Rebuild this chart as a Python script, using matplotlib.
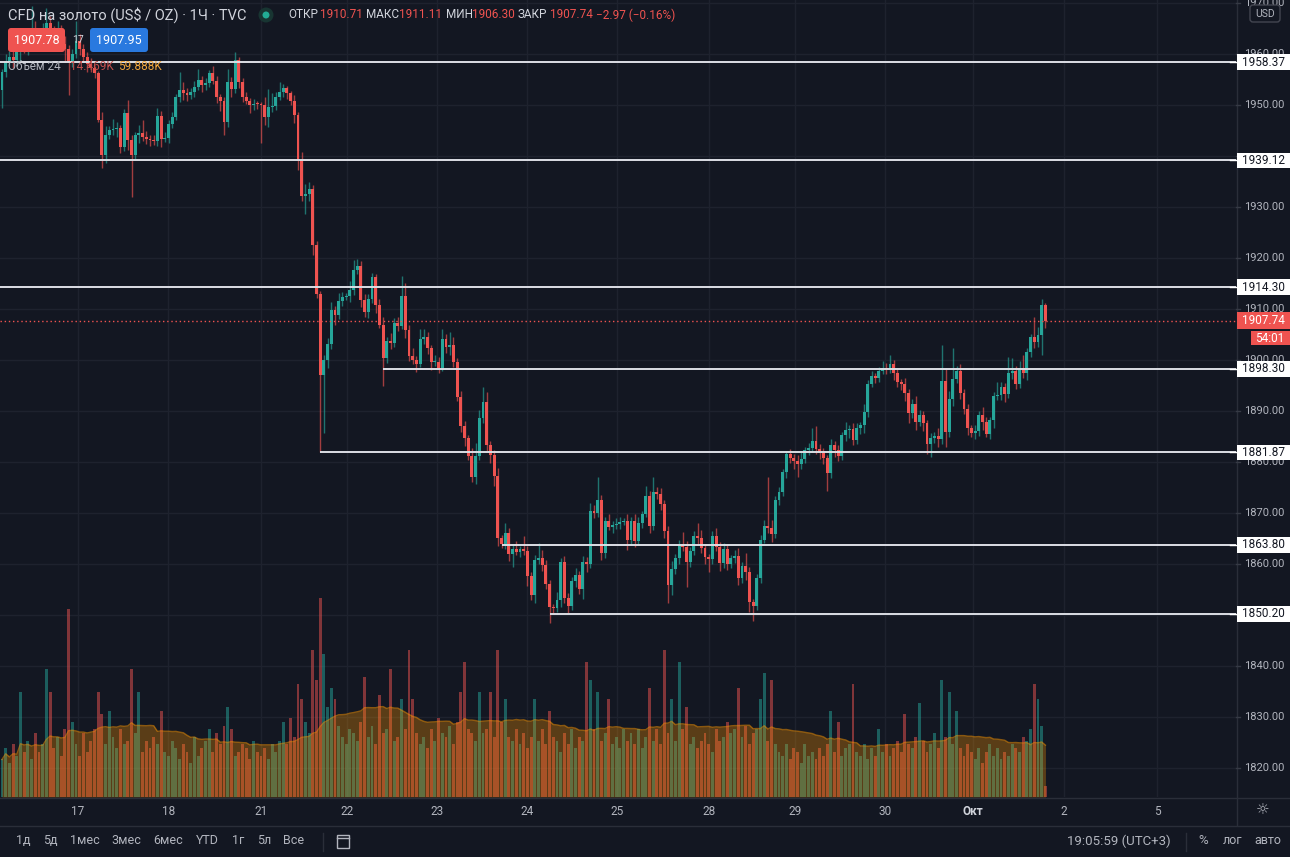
import numpy as np
import pandas as pd
import matplotlib
matplotlib.use("Agg")
import matplotlib.pyplot as plt
from matplotlib.patches import Rectangle, FancyBboxPatch, Circle
from matplotlib.lines import Line2D
from matplotlib.transforms import blended_transform_factory

plt.rcParams['font.family'] = ['Roboto', 'DejaVu Sans']

# --- данные: часовые свечи CFD на золото (закрытия, тени, объём в тыс.) ---
first_open = 1953.0
last_open = 1910.71

closes = [
    1956.5, 1958.5, 1959.5, 1958.8, 1960.5, 1962.0, 1961.0, 1963.0, 1965.0, 1963.5,
    1962.5, 1964.0, 1966.0, 1964.5, 1963.0, 1964.5, 1962.0, 1961.0, 1958.5, 1960.0,
    1962.5, 1961.0, 1959.5, 1958.0, 1957.2, 1956.3, 1947.1, 1940.2, 1944.1, 1945.1,
    1945.3, 1945.5, 1941.8, 1948.4, 1943.1, 1940.2, 1944.1, 1944.5, 1943.7, 1943.3,
    1943.2, 1943.0, 1947.9, 1943.3, 1943.5, 1946.3, 1947.6, 1951.6, 1953.0, 1952.4,
    1952.0, 1952.5, 1953.5, 1954.9, 1954.0, 1954.3, 1956.3, 1954.7, 1951.6, 1950.8,
    1946.7, 1954.5, 1953.1, 1958.8, 1954.5, 1951.6, 1950.8, 1950.0, 1950.2, 1950.1,
    1950.0, 1947.6, 1949.6, 1949.8, 1951.6, 1952.5, 1953.3, 1952.4, 1950.8, 1948.0,
    1939.2, 1932.2, 1932.6, 1933.5, 1922.5, 1912.9, 1897.1, 1900.0, 1903.1, 1909.8,
    1908.8, 1911.6, 1912.4, 1912.5, 1913.7, 1917.6, 1918.4, 1911.8, 1909.4, 1912.0,
    1916.3, 1910.8, 1906.9, 1900.4, 1903.7, 1903.3, 1907.2, 1906.7, 1912.5, 1905.9,
    1900.8, 1900.0, 1899.2, 1904.1, 1904.5, 1902.4, 1899.6, 1899.7, 1898.4, 1904.1,
    1902.5, 1903.0, 1899.6, 1892.7, 1887.0, 1884.7, 1881.2, 1877.1, 1881.2, 1888.6,
    1891.8, 1883.3, 1881.4, 1877.3, 1865.1, 1863.9, 1866.1, 1862.0, 1863.0, 1862.4,
    1863.0, 1862.6, 1857.6, 1853.9, 1860.8, 1861.2, 1859.8, 1856.1, 1851.6, 1851.4,
    1853.0, 1860.4, 1853.3, 1851.8, 1856.7, 1857.8, 1855.1, 1860.4, 1860.0, 1870.4,
    1870.0, 1872.5, 1862.2, 1868.4, 1867.3, 1867.6, 1867.8, 1868.2, 1868.4, 1864.7,
    1868.4, 1864.5, 1868.0, 1869.8, 1873.3, 1867.5, 1874.1, 1873.7, 1871.8, 1866.5,
    1855.9, 1859.0, 1861.2, 1863.7, 1863.3, 1860.4, 1862.5, 1865.5, 1865.1, 1863.1,
    1861.4, 1861.0, 1865.5, 1863.3, 1860.2, 1863.0, 1860.0, 1861.2, 1861.6, 1857.3,
    1859.6, 1858.4, 1852.5, 1851.8, 1857.3, 1864.7, 1867.5, 1867.1, 1865.9, 1872.5,
    1874.1, 1878.0, 1881.6, 1880.8, 1880.2, 1879.6, 1880.6, 1882.4, 1882.7, 1884.1,
    1882.5, 1882.0, 1880.8, 1877.8, 1883.3, 1882.4, 1881.2, 1885.3, 1886.3, 1886.5,
    1884.3, 1886.7, 1887.2, 1889.8, 1895.3, 1896.9, 1896.5, 1897.8, 1898.4, 1898.3,
    1899.2, 1897.5, 1895.7, 1895.3, 1893.5, 1889.6, 1891.4, 1887.8, 1889.2, 1887.6,
    1883.5, 1884.7, 1885.1, 1884.5, 1895.9, 1885.9, 1892.4, 1896.3, 1897.8, 1893.5,
    1890.4, 1886.7, 1885.7, 1886.0, 1889.2, 1887.8, 1885.5, 1888.2, 1892.9, 1893.1,
    1894.7, 1893.3, 1897.5, 1897.8, 1895.3, 1898.4, 1897.5, 1901.6, 1904.5, 1903.5,
    1904.9, 1910.7, 1907.74,
]

up_wick = [
    0.5, 1.5, 1.0, 2.0, 1.2, 0.8, 2.5, 1.0, 4.5, 1.5,
    1.0, 2.0, 3.0, 1.5, 1.0, 2.0, 1.2, 1.5, 0.8, 1.0,
    4.0, 1.5, 1.0, 0.8, 1.2, 0.5, 0.4, 1.5, 1.8, 0.8,
    2.0, 1.2, 0.5, 0.8, 2.5, 1.0, 0.6, 1.5, 2.5, 1.2,
    0.8, 1.0, 1.5, 0.9, 1.2, 0.8, 1.0, 0.6, 3.5, 1.5,
    1.0, 0.8, 1.2, 2.2, 0.8, 1.0, 0.6, 1.4, 1.0, 0.5,
    0.8, 2.5, 1.0, 1.5, 0.6, 0.8, 1.0, 0.5, 1.0, 0.6,
    0.5, 1.5, 3.5, 2.5, 1.0, 2.0, 0.8, 0.5, 0.3, 1.2,
    0.6, 1.5, 2.0, 1.5, 0.8, 0.9, 0.6, 1.0, 1.2, 1.5,
    0.8, 1.5, 1.0, 0.6, 1.8, 2.0, 1.5, 1.0, 1.2, 1.0,
    0.8, 0.6, 1.2, 1.5, 0.8, 1.5, 1.0, 1.2, 4.0, 2.5,
    1.0, 1.5, 0.8, 2.0, 1.5, 1.0, 0.6, 1.2, 0.8, 2.0,
    1.0, 2.5, 1.5, 0.8, 1.2, 1.0, 0.6, 1.5, 2.5, 1.5,
    3.0, 2.0, 0.8, 1.0, 1.5, 0.6, 2.0, 1.0, 0.8, 1.5,
    0.6, 2.5, 1.0, 0.8, 1.0, 3.0, 1.5, 1.0, 0.8, 0.6,
    1.5, 0.8, 1.2, 1.0, 0.8, 1.5, 0.8, 1.2, 1.0, 1.5,
    1.2, 4.5, 1.0, 0.8, 1.5, 0.8, 1.2, 1.0, 0.6, 1.5,
    0.8, 1.5, 1.2, 0.6, 2.0, 1.0, 3.0, 1.0, 1.2, 0.8,
    1.0, 1.5, 0.8, 1.0, 2.5, 1.2, 0.8, 1.0, 2.5, 1.5,
    0.8, 0.6, 1.0, 1.5, 1.0, 1.2, 0.8, 0.6, 1.2, 1.5,
    0.8, 2.5, 1.0, 0.6, 0.8, 1.0, 1.2, 9.5, 1.5, 0.8,
    1.0, 0.6, 0.5, 1.0, 0.8, 1.2, 1.5, 0.6, 1.0, 2.5,
    3.0, 1.0, 0.8, 0.6, 1.2, 0.8, 1.0, 0.6, 1.5, 0.8,
    1.2, 1.0, 0.6, 1.5, 0.8, 1.0, 0.6, 0.8, 1.5, 1.0,
    1.8, 0.8, 1.0, 0.6, 1.2, 0.8, 1.0, 1.5, 1.0, 0.8,
    0.6, 1.0, 0.8, 1.5, 7.0, 2.5, 1.5, 6.0, 1.0, 1.5,
    0.8, 1.0, 0.6, 1.2, 0.8, 1.5, 1.0, 0.6, 0.8, 2.5,
    1.0, 0.8, 3.0, 2.5, 1.0, 1.5, 2.5, 0.8, 0.6, 4.0,
    1.5, 1.2, 0.4,
]

down_wick = [
    3.5, 1.0, 0.8, 1.5, 1.0, 2.0, 0.8, 1.2, 1.0, 1.5,
    0.8, 1.2, 1.0, 2.0, 0.6, 1.0, 1.5, 2.5, 6.5, 1.0,
    0.8, 1.2, 1.0, 1.5, 0.8, 1.0, 0.5, 2.5, 1.5, 0.8,
    1.0, 1.5, 1.2, 0.8, 2.0, 8.3, 1.0, 1.5, 0.8, 1.0,
    1.2, 0.8, 1.0, 1.5, 0.6, 1.0, 0.8, 0.6, 1.0, 1.5,
    1.2, 0.8, 1.0, 0.6, 1.5, 1.0, 0.8, 0.6, 1.2, 2.0,
    2.5, 1.0, 1.5, 0.8, 1.2, 1.0, 0.6, 1.5, 1.0, 0.8,
    7.5, 1.5, 2.0, 1.0, 0.8, 0.6, 1.0, 1.2, 0.8, 1.5,
    2.0, 1.0, 3.5, 1.5, 2.0, 0.8, 15.2, 11.4, 1.5, 1.0,
    2.0, 0.8, 1.0, 0.6, 1.2, 1.0, 0.8, 1.5, 1.0, 1.2,
    0.8, 1.5, 0.6, 5.5, 1.0, 1.2, 0.8, 1.0, 0.6, 1.5,
    1.0, 0.8, 1.5, 0.6, 1.0, 1.2, 1.5, 0.8, 1.0, 0.6,
    1.2, 1.5, 1.0, 0.8, 1.2, 1.5, 0.8, 1.0, 1.5, 0.8,
    1.0, 1.2, 1.5, 2.0, 1.5, 0.8, 1.0, 1.5, 2.5, 0.6,
    1.0, 0.8, 2.0, 1.0, 1.5, 0.8, 1.2, 1.0, 3.1, 1.0,
    0.8, 1.5, 1.0, 1.5, 0.8, 1.2, 1.0, 2.0, 1.5, 0.8,
    1.0, 0.8, 1.5, 1.0, 0.6, 1.2, 0.8, 1.0, 0.6, 2.0,
    1.0, 1.2, 0.8, 1.0, 0.6, 1.5, 0.8, 1.0, 1.2, 1.5,
    3.5, 2.0, 1.0, 1.2, 0.8, 5.0, 1.0, 0.8, 1.2, 1.0,
    1.5, 2.5, 1.0, 0.8, 1.5, 1.0, 1.2, 0.8, 1.0, 1.5,
    1.0, 1.5, 2.0, 3.0, 0.8, 1.0, 0.6, 1.0, 1.5, 0.8,
    1.0, 0.8, 1.2, 1.0, 1.5, 2.5, 1.0, 0.8, 1.0, 0.6,
    1.0, 1.5, 1.2, 3.5, 1.0, 1.5, 1.0, 0.8, 1.2, 1.5,
    1.0, 0.8, 1.2, 1.5, 1.0, 0.6, 1.0, 0.8, 0.6, 1.0,
    0.8, 1.5, 1.0, 1.2, 1.5, 2.0, 1.0, 1.5, 0.8, 1.5,
    2.0, 2.5, 1.0, 1.5, 1.0, 3.0, 1.0, 1.5, 0.8, 1.2,
    1.0, 1.5, 0.8, 1.2, 1.0, 1.5, 0.6, 1.0, 1.5, 0.8,
    1.0, 1.5, 0.8, 1.2, 1.0, 0.8, 1.0, 1.5, 1.0, 1.2,
    1.0, 4.0, 1.44,
]

volume_k = [
    50, 65, 45, 70, 55, 140, 60, 75, 50, 85,
    60, 70, 170, 140, 65, 80, 55, 90, 250, 100,
    70, 55, 85, 60, 75, 90, 140, 110, 70, 115,
    80, 65, 90, 70, 75, 170, 85, 140, 60, 75,
    65, 80, 70, 115, 60, 55, 75, 65, 50, 70,
    60, 45, 80, 55, 65, 75, 90, 60, 85, 70,
    95, 120, 90, 55, 60, 70, 65, 50, 75, 60,
    55, 65, 50, 70, 60, 75, 100, 70, 105, 80,
    150, 130, 100, 85, 195, 155, 265, 190, 120, 145,
    130, 95, 80, 70, 90, 85, 75, 100, 160, 80,
    95, 70, 135, 85, 90, 170, 75, 80, 130, 90,
    195, 130, 85, 70, 80, 65, 90, 75, 105, 85,
    80, 95, 70, 100, 140, 180, 90, 85, 75, 140,
    85, 90, 140, 80, 195, 100, 130, 80, 75, 90,
    70, 85, 65, 80, 130, 75, 90, 70, 115, 80,
    75, 60, 85, 70, 90, 65, 80, 75, 180, 155,
    90, 140, 75, 85, 130, 70, 80, 65, 90, 75,
    85, 70, 90, 65, 80, 145, 75, 90, 70, 195,
    85, 130, 75, 180, 90, 120, 70, 80, 65, 75,
    85, 70, 60, 90, 75, 80, 100, 85, 90, 145,
    80, 95, 70, 85, 90, 130, 165, 75, 155, 70,
    60, 55, 70, 50, 65, 60, 45, 70, 55, 60,
    50, 65, 55, 70, 115, 60, 100, 55, 65, 70,
    150, 60, 55, 70, 50, 65, 55, 90, 60, 70,
    55, 65, 75, 60, 110, 70, 65, 80, 125, 75,
    60, 70, 85, 65, 155, 80, 140, 70, 115, 65,
    55, 70, 60, 50, 65, 45, 60, 70, 55, 65,
    50, 60, 55, 70, 65, 60, 80, 75, 90, 150,
    130, 95, 14.469,
]

day_pos = [20.5, 44.9, 70.0, 93.2, 117.6, 141.9, 166.2, 191.1, 214.3, 238.6, 262.4, 287.0, 312.2]
day_labels = ['17', '18', '21', '22', '23', '24', '25', '28', '29', '30', 'Окт', '2', '5']

full_levels = [1958.37, 1939.12, 1914.30]
ray_levels = [1898.30, 1881.87, 1863.80, 1850.20]
ray_start = [103, 86, 135, 148]

price_ticks = list(range(1820, 1980, 10))
last_price = 1907.74

# --- подготовка OHLC ---
c = np.array(closes)
o = np.array([first_open] + closes[:-1])
o[-1] = last_open
hi = np.maximum(o, c) + np.array(up_wick)
lo = np.minimum(o, c) - np.array(down_wick)
idx = np.arange(len(c))
is_up = c >= o

BG = '#131722'
UP = '#26a69a'
DN = '#ef5350'
TXT = '#b2b5be'
LINE = '#2a2e39'
GRID = '#1e222e'
W, H = 1290, 857

fig = plt.figure(figsize=(W / 100, H / 100), dpi=100, facecolor=BG)
ax = fig.add_axes([0, 60 / H, 1236 / W, 797 / H])
axv = ax.twinx()
ax.set_zorder(axv.get_zorder() + 1)
ax.patch.set_visible(False)
axv.patch.set_visible(False)

# сетка рисуется на нижней оси, под объёмом
grid_tr = blended_transform_factory(axv.transAxes, ax.transData)
for p in price_ticks:
    axv.add_line(Line2D([0, 1], [p, p], transform=grid_tr, color=GRID, linewidth=1, zorder=0))
for d in day_pos:
    axv.axvline(d, color=GRID, linewidth=1, zorder=0)

# объём + скользящая 24
vcol = np.where(is_up, UP, DN)
axv.bar(idx, volume_k, width=0.78, color=vcol, alpha=0.5, linewidth=0, zorder=1)
ma = pd.Series(volume_k).rolling(24, min_periods=1).mean()
axv.fill_between(idx, 0, ma, color='#ff9800', alpha=0.3, linewidth=0, zorder=2)
axv.plot(idx, ma, color='#ff9800', alpha=0.5, linewidth=1, zorder=2)
axv.set_ylim(0, 1060)
axv.set_yticks([])
for s in axv.spines.values():
    s.set_visible(False)

# свечи
ccol = np.where(is_up, UP, DN)
ax.vlines(idx, lo, hi, colors=ccol, linewidth=1, alpha=0.65, zorder=3)
body = np.maximum(np.abs(c - o), 0.2)
ax.bar(idx, body, bottom=np.minimum(o, c), width=0.78, color=ccol, linewidth=0, zorder=4)

# уровни
for lvl in full_levels:
    ax.axhline(lvl, color='#dcdee5', linewidth=1.4, zorder=5)
xmax = 333.5
for lvl, st in zip(ray_levels, ray_start):
    ax.hlines(lvl, st, xmax, color='#dcdee5', linewidth=1.4, zorder=5)
ax.axhline(last_price, color=DN, linewidth=1, linestyle=(0, (1, 2)), zorder=5)

ax.set_xlim(-0.54, xmax)
ax.set_ylim(1814.31, 1970.59)
ax.set_yticks(price_ticks)
ax.set_xticks(day_pos)
ax.set_xticklabels(day_labels)
ax.grid(False)
ax.tick_params(axis='y', length=0, labelleft=False, labelright=False)
ax.tick_params(axis='x', length=0, colors=TXT, labelsize=8.5, pad=6)
for lab in ax.get_xticklabels():
    if lab.get_text() == 'Окт':
        lab.set_fontweight('bold')
        lab.set_color('#d1d4dc')
for s in ax.spines.values():
    s.set_visible(False)

inch = fig.dpi_scale_trans
bt = blended_transform_factory(inch, ax.transData)


def T(x, y, s, **kw):
    fig.text(x / 100, (H - y) / 100, s, transform=inch, **kw)


def box(x0, y0, x1, y1, fc, ec='none', r=0.03):
    p = FancyBboxPatch((x0 / 100, (H - y1) / 100), (x1 - x0) / 100, (y1 - y0) / 100,
                       boxstyle=f'round,pad=0,rounding_size={r}', transform=inch,
                       fc=fc, ec=ec, lw=1, zorder=5)
    fig.add_artist(p)


def hline_px(x0, x1, y, color=LINE):
    fig.add_artist(Line2D([x0 / 100, x1 / 100], [(H - y) / 100] * 2, transform=inch,
                          color=color, linewidth=1, zorder=4))


def vline_px(x, y0, y1, color=LINE):
    fig.add_artist(Line2D([x / 100] * 2, [(H - y0) / 100, (H - y1) / 100], transform=inch,
                          color=color, linewidth=1, zorder=4))


# шкала цен справа
vline_px(1236.5, 0, 825)
hline_px(0, W, 797.5)
hline_px(0, W, 825.5)
marked = full_levels + ray_levels
for p in price_ticks:
    fig.add_artist(Line2D([12.36, 12.40], [p, p], transform=bt, color='#363a45', lw=1, zorder=4))
    # подпись, полностью закрытая меткой уровня, не выводится
    if min(abs(p - m) for m in marked) < 1.2:
        continue
    fig.text(12.84, p, f'{p:.2f}', transform=bt, ha='right', va='center',
             color=TXT, fontsize=8, zorder=4)

for lvl in marked:
    fig.add_artist(Rectangle((12.37, lvl - 1.55), 0.53, 3.1, transform=bt,
                             fc='white', ec='none', zorder=6))
    fig.add_artist(Line2D([12.30, 12.37], [lvl, lvl], transform=bt, color='white', lw=1, zorder=6))
    fig.text(12.635, lvl, f'{lvl:.2f}', transform=bt, ha='center', va='center',
             color='#131722', fontsize=8.5, zorder=7)

fig.add_artist(Rectangle((12.37, last_price - 1.6), 0.53, 3.2, transform=bt,
                         fc=DN, ec='none', zorder=6))
fig.text(12.635, last_price, f'{last_price:.2f}', transform=bt, ha='center', va='center',
         color='white', fontsize=8.5, zorder=7)
box(1251, 331, 1290, 345, DN, r=0.0)
T(1270, 338, '54:01', ha='center', va='center', color='white', fontsize=8.5, zorder=7)

box(1250, 5, 1280, 22, BG, ec='#434651', r=0.03)
T(1265, 14, 'USD', ha='center', va='center', color=TXT, fontsize=7.5, zorder=7)

# шапка
T(8, 15, 'CFD на золото (US$ / OZ) · 1Ч · TVC', color='#d1d4dc', fontsize=10.5, va='center', zorder=7)
fig.add_artist(Circle((266 / 100, (H - 15) / 100), 0.075, transform=inch, fc='#183532', ec='none', zorder=7))
fig.add_artist(Circle((266 / 100, (H - 15) / 100), 0.035, transform=inch, fc='#22ab94', ec='none', zorder=8))
ohlc_items = [(288, 'ОТКР', '1910.71'), (366, 'МАКС', '1911.11'),
              (446, 'МИН', '1906.30'), (518, 'ЗАКР', '1907.74')]
val_x = [320, 399, 472, 550]
for (lx, lab, val), vx in zip(ohlc_items, val_x):
    T(lx, 15, lab, color='#d1d4dc', fontsize=8.5, va='center', zorder=7)
    T(vx, 15, val, color=DN, fontsize=8.5, va='center', zorder=7)
T(596, 15, '−2.97 (−0.16%)', color=DN, fontsize=8.5, va='center', zorder=7)

box(8, 28, 65, 52, DN, r=0.03)
T(36.5, 40, '1907.78', color='white', fontsize=9, ha='center', va='center', zorder=8)
T(78, 40, '17', color='#d1d4dc', fontsize=7.5, ha='center', va='center', zorder=8)
box(90, 28, 148, 52, '#2979df', r=0.03)
T(119, 40, '1907.95', color='white', fontsize=9, ha='center', va='center', zorder=8)

T(8, 66, 'Объём 24', color=TXT, fontsize=8.5, va='center', zorder=7)
T(70, 66, '14.469K', color='#c2504e', fontsize=8.5, va='center', zorder=7)
T(118, 66, '59.888K', color='#f0a63c', fontsize=8.5, va='center', zorder=7)

# нижняя панель
T(1263, 811, '☼', color=TXT, fontsize=11, ha='center', va='center', zorder=7)
ranges = ['1д', '5д', '1мес', '3мес', '6мес', 'YTD', '1г', '5л', 'Все']
range_x = [23, 50, 85, 126, 168, 207, 238, 264, 294]
for s, x in zip(ranges, range_x):
    T(x, 841, s, color=TXT, fontsize=9, ha='center', va='center', zorder=7)
vline_px(322.5, 833, 851)
fig.add_artist(Rectangle((337 / 100, (H - 848) / 100), 0.12, 0.13, transform=inch,
                         fc='none', ec=TXT, lw=1, zorder=7))
hline_px(337, 349, 838, color=TXT)
T(1119, 841, '19:05:59 (UTC+3)', color=TXT, fontsize=9.5, ha='center', va='center', zorder=7)
vline_px(1185.5, 833, 851)
T(1203, 841, '%', color=TXT, fontsize=9.5, ha='center', va='center', zorder=7)
T(1232, 841, 'лог', color=TXT, fontsize=9, ha='center', va='center', zorder=7)
T(1268, 841, 'авто', color=TXT, fontsize=9, ha='center', va='center', zorder=7)

fig.savefig('out.png', dpi=100, facecolor=BG)
